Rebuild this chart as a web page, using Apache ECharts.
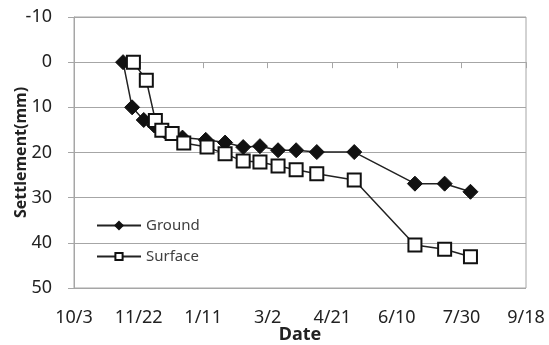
<!DOCTYPE html>
<html>
<head>
<meta charset="utf-8">
<script src="https://cdn.jsdelivr.net/npm/echarts@6/dist/echarts.min.js"></script>
<style>
  html, body { margin: 0; padding: 0; background: #fff; }
  #chart { width: 549px; height: 345px; }
</style>
</head>
<body>
<div id="chart"></div>
<script>
// days counted from 10/3
const dateLabels = ['10/3', '11/22', '1/11', '3/2', '4/21', '6/10', '7/30', '9/18'];

const groundDays = [38, 45, 54, 62, 70, 84, 102, 117, 131, 144, 158, 172, 188, 217, 264, 287, 307];
const groundVals = [0, 10, 12.8, 14, 15.3, 16.7, 17.2, 17.8, 18.8, 18.6, 19.5, 19.5, 19.9, 19.9, 26.9, 26.9, 28.7];

const surfaceDays = [46, 56, 63, 68, 76, 85, 103, 117, 131, 144, 158, 172, 188, 217, 264, 287, 307];
const surfaceVals = [0, 4, 12.9, 15.1, 15.8, 17.9, 18.8, 20.3, 21.9, 22.1, 23.0, 23.8, 24.7, 26.1, 40.5, 41.4, 43.1];

const font = 'Noto Sans';
const gridColor = '#a6a6a6';

const chart = echarts.init(document.getElementById('chart'), null, { renderer: 'canvas' });

const option = {
  backgroundColor: '#fff',
  animation: false,
  textStyle: { fontFamily: font },
  grid: {
    left: 74, right: 23, top: 17, bottom: 57,
    outerBoundsMode: 'none', containLabel: false,
    show: true, borderColor: gridColor, borderWidth: 1
  },
  legend: {
    orient: 'vertical',
    left: 91,
    top: 213,
    itemWidth: 44,
    itemHeight: 9,
    itemGap: 16,
    textStyle: { fontFamily: font, fontSize: 15, color: '#404040' },
    data: ['Ground', 'Surface']
  },
  xAxis: {
    type: 'value',
    min: 0,
    max: 350,
    interval: 50,
    name: 'Date',
    nameLocation: 'middle',
    nameGap: 38,
    nameMoveOverlap: false,
    nameTextStyle: { fontFamily: font, fontSize: 18, fontWeight: 'bold', color: '#222' },
    axisLine: { show: true, lineStyle: { color: gridColor } },
    axisTick: { show: true, length: 6, lineStyle: { color: gridColor } },
    axisLabel: {
      fontSize: 18, color: '#222', margin: 21,
      formatter: v => dateLabels[Math.round(v / 50)]
    },
    splitLine: { show: false }
  },
  yAxis: {
    type: 'value',
    inverse: true,
    min: -10,
    max: 50,
    interval: 10,
    name: 'Settlement(mm)',
    nameLocation: 'middle',
    nameGap: 45,
    nameMoveOverlap: false,
    nameTextStyle: { fontFamily: font, fontSize: 16, fontWeight: 'bold', color: '#222' },
    axisLine: { show: true, lineStyle: { color: gridColor } },
    axisTick: { show: true, length: 6, lineStyle: { color: gridColor } },
    axisLabel: { fontSize: 18, color: '#222', margin: 22 },
    splitLine: { show: true, lineStyle: { color: gridColor, width: 1 } }
  },
  series: [
    {
      name: 'Ground',
      type: 'line',
      data: groundDays.map((d, i) => [d, groundVals[i]]),
      symbol: 'diamond',
      symbolSize: 15,
      itemStyle: { color: '#111', borderColor: '#111', borderWidth: 1 },
      lineStyle: { color: '#222', width: 1.5 },
      z: 2
    },
    {
      name: 'Surface',
      type: 'line',
      data: surfaceDays.map((d, i) => [d, surfaceVals[i]]),
      symbol: 'rect',
      symbolSize: 13,
      itemStyle: { color: '#fff', borderColor: '#111', borderWidth: 2 },
      lineStyle: { color: '#222', width: 1.5 },
      z: 3
    }
  ]
};

chart.setOption(option);
</script>
</body>
</html>
